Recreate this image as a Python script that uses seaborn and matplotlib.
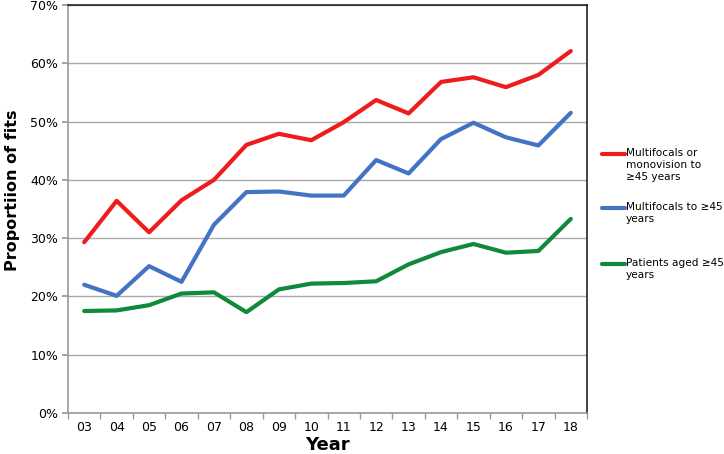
import matplotlib
matplotlib.use("Agg")
import matplotlib.pyplot as plt
import matplotlib.ticker as mticker
import numpy as np
import pandas as pd
import seaborn as sns

years = ["03", "04", "05", "06", "07", "08", "09", "10",
         "11", "12", "13", "14", "15", "16", "17", "18"]
multi_or_mono = [29.3, 36.4, 31.0, 36.5, 40.0, 46.0, 47.9, 46.8,
                 49.9, 53.7, 51.4, 56.8, 57.6, 55.9, 58.0, 62.1]
multi_only = [22.0, 20.1, 25.2, 22.5, 32.3, 37.9, 38.0, 37.3,
              37.3, 43.4, 41.1, 47.0, 49.8, 47.3, 45.9, 51.5]
patients = [17.5, 17.6, 18.5, 20.5, 20.7, 17.3, 21.2, 22.2,
            22.3, 22.6, 25.5, 27.6, 29.0, 27.5, 27.8, 33.3]

series_names = ["Multifocals or\nmonovision to\n\u226545 years",
                "Multifocals to \u226545\nyears",
                "Patients aged \u226545\nyears"]
series_colors = ["#ee1c1c", "#4472c4", "#0f8a3a"]


def main():
    sns.set_theme(style="white")
    plt.rcParams['font.family'] = ['DejaVu Sans']
    plt.rcParams['text.color'] = 'black'
    plt.rcParams['xtick.color'] = 'black'
    plt.rcParams['ytick.color'] = 'black'
    plt.rcParams['axes.labelcolor'] = 'black'

    rows = []
    for name, vals in zip(series_names,
                          [multi_or_mono, multi_only, patients]):
        for i, (yr, v) in enumerate(zip(years, vals)):
            rows.append({"pos": i, "year": yr, "value": v / 100, "series": name})
    df = pd.DataFrame(rows)

    fig = plt.figure(figsize=(7.24, 4.54), dpi=100)
    ax = fig.add_axes([68 / 724, 1 - 413 / 454, 519 / 724, 408 / 454])

    sns.lineplot(data=df, x="pos", y="value", hue="series",
                 hue_order=series_names, palette=series_colors,
                 linewidth=3, ax=ax, legend=False)

    ax.set_xlim(-0.5, len(years) - 0.5)
    ax.set_ylim(0, 0.7)
    ax.yaxis.set_major_locator(mticker.MultipleLocator(0.1))
    ax.yaxis.set_major_formatter(mticker.PercentFormatter(1.0, decimals=0))
    ax.set_xticks(range(len(years)))
    ax.set_xticklabels(years)
    ax.set_xticks(np.arange(-0.5, len(years)), minor=True)
    ax.tick_params(axis="x", which="major", length=0, labelsize=9, pad=5.5)
    ax.tick_params(axis="x", which="minor", length=4, color="#999999",
                   direction="out", bottom=True)
    ax.tick_params(axis="y", which="major", length=4, color="#999999",
                   direction="out", left=True, labelsize=9, pad=3)

    ax.grid(axis="y", color="#aaaaaa", linewidth=1)
    ax.set_axisbelow(True)
    for side in ["top", "right"]:
        ax.spines[side].set_color("#222222")
        ax.spines[side].set_linewidth(1.2)
    for side in ["left", "bottom"]:
        ax.spines[side].set_color("#999999")
        ax.spines[side].set_linewidth(1.2)

    ax.set_xlabel("Year", fontsize=13, fontweight="bold")
    ax.xaxis.set_label_coords(0.5, (413 - 436) / 408)
    ax.set_ylabel("Proportiion of fits", fontsize=11.5, fontweight="bold")
    ax.yaxis.set_label_coords((13 - 68) / 519, (413 - 190) / 408)
    ax.yaxis.label.set_va("center")
    ax.xaxis.label.set_va("top")

    # legend on the right, line aligned with the first text line
    legend_rows = [154, 208, 264]
    for name, color, y in zip(series_names, series_colors, legend_rows):
        fy = 1 - y / 454
        fig.add_artist(plt.Line2D([602 / 724, 625 / 724], [fy, fy],
                                  color=color, linewidth=3,
                                  transform=fig.transFigure))
        fig.text(626 / 724, 1 - (y - 6) / 454, name, fontsize=7.6,
                 va="top", ha="left", linespacing=1.25)

    fig.savefig("out.png", dpi=100)
    plt.close(fig)


if __name__ == '__main__':
    main()
